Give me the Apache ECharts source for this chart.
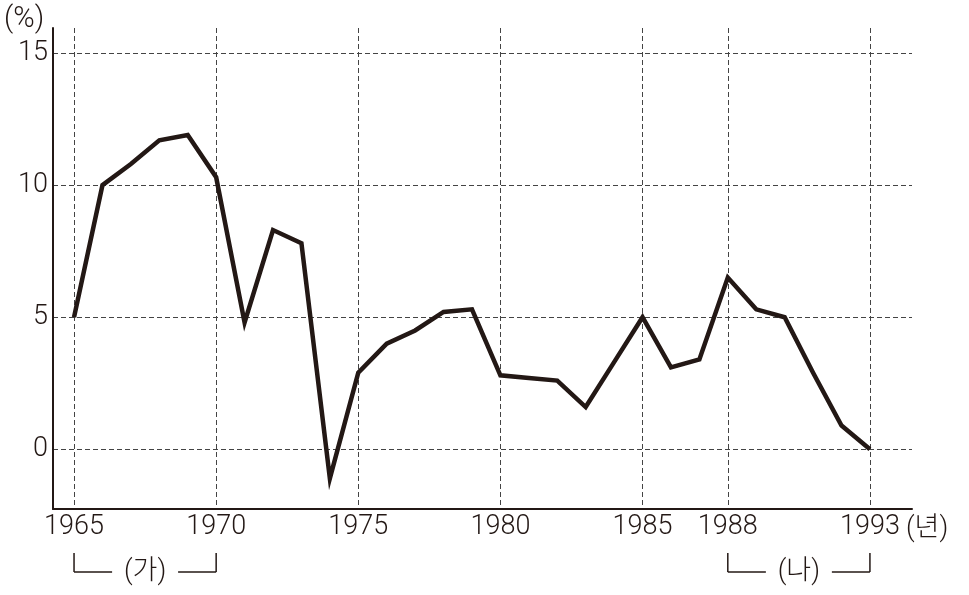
<!DOCTYPE html>
<html>
<head>
<meta charset="utf-8">
<script src="https://cdn.jsdelivr.net/npm/echarts@6/dist/echarts.min.js"></script>
<style>
  html, body { margin: 0; padding: 0; background: #fff; }
  #main { width: 969px; height: 595px; }
</style>
</head>
<body>
<div id="main"></div>
<script>
// 연도별 경제 성장률 (%)
var years = [1965, 1966, 1967, 1968, 1969, 1970, 1971, 1972, 1973, 1974,
             1975, 1976, 1977, 1978, 1979, 1980, 1981, 1982, 1983, 1984,
             1985, 1986, 1987, 1988, 1989, 1990, 1991, 1992, 1993];
var rates = [5.0, 10.0, 10.8, 11.7, 11.9, 10.3, 4.8, 8.3, 7.8, -1.1,
             2.9, 4.0, 4.5, 5.2, 5.3, 2.8, 2.7, 2.6, 1.6, 3.3,
             5.0, 3.1, 3.4, 6.5, 5.3, 5.0, 2.9, 0.9, 0.0];

var xTicks = [1965, 1970, 1975, 1980, 1985, 1988, 1993];
var yTicks = [0, 5, 10, 15];

// 구간 표시
var periods = [
  { name: '(가)', from: 1965, to: 1970 },
  { name: '(나)', from: 1988, to: 1993 }
];

var ink = '#231815';
var fontFam = 'Roboto, "Noto Sans CJK KR", sans-serif';

var seriesData = years.map(function (y, i) { return [y, rates[i]]; });

var option = {
  backgroundColor: '#fff',
  animation: false,
  grid: { left: 53, right: 57, top: 28, bottom: 86 },
  xAxis: {
    type: 'value',
    min: 1964.26,
    max: 1994.48,
    axisLine: { show: true, onZero: false, lineStyle: { color: ink, width: 2 } },
    axisTick: { show: false, customValues: xTicks },
    axisLabel: {
      customValues: xTicks,
      formatter: function (v) { return String(v); },
      margin: 5,
      color: ink,
      fontSize: 27,
      fontWeight: 300,
      fontFamily: fontFam
    },
    splitLine: {
      show: true,
      lineStyle: { color: '#444', width: 1, type: [5, 3] }
    }
  },
  yAxis: {
    type: 'value',
    min: -2.26,
    max: 15.95,
    axisLine: { show: true, onZero: false, lineStyle: { color: ink, width: 2 } },
    axisTick: { show: false, customValues: yTicks },
    axisLabel: {
      customValues: yTicks,
      margin: 5,
      padding: [4, 0, 0, 0],
      color: ink,
      fontSize: 27,
      fontWeight: 300,
      fontFamily: fontFam
    },
    splitLine: {
      show: true,
      lineStyle: { color: '#444', width: 1, type: [5, 3] }
    }
  },
  series: [
    {
      type: 'line',
      data: seriesData,
      symbol: 'none',
      lineStyle: { color: ink, width: 4.5, join: 'miter' }
    }
  ]
};

var chart = echarts.init(document.getElementById('main'));
chart.setOption(option);

// 축 아래 구간 괄호와 단위 표시
function px(x, y) {
  return chart.convertToPixel({ gridIndex: 0 }, [x, y]);
}
var axisY = px(1965, -2.26)[1];
var gfx = [];
var lineStyle = { stroke: ink, lineWidth: 1.5 };

periods.forEach(function (p) {
  var x1 = px(p.from, 0)[0];
  var x2 = px(p.to, 0)[0];
  var mid = (x1 + x2) / 2;
  var top = axisY + 44;
  var bot = axisY + 63;
  gfx.push({ type: 'line', shape: { x1: x1, y1: top, x2: x1, y2: bot }, style: lineStyle });
  gfx.push({ type: 'line', shape: { x1: x1, y1: bot, x2: mid - 33, y2: bot }, style: lineStyle });
  gfx.push({ type: 'line', shape: { x1: mid + 33, y1: bot, x2: x2, y2: bot }, style: lineStyle });
  gfx.push({ type: 'line', shape: { x1: x2, y1: top, x2: x2, y2: bot }, style: lineStyle });
  gfx.push({
    type: 'text',
    style: {
      text: p.name, x: mid, y: bot,
      align: 'center', verticalAlign: 'middle',
      font: '300 27px ' + fontFam, fill: ink
    }
  });
});

var lastX = px(xTicks[xTicks.length - 1], 0)[0];
gfx.push({
  type: 'text',
  style: {
    text: '(년)', x: lastX + 36, y: axisY + 20,
    align: 'left', verticalAlign: 'middle',
    font: '300 27px ' + fontFam, fill: ink
  }
});
gfx.push({
  type: 'text',
  style: {
    text: '(%)', x: 4, y: 20,
    align: 'left', verticalAlign: 'middle',
    font: '300 29px ' + fontFam, fill: ink
  }
});

chart.setOption({ graphic: gfx });
</script>
</body>
</html>
